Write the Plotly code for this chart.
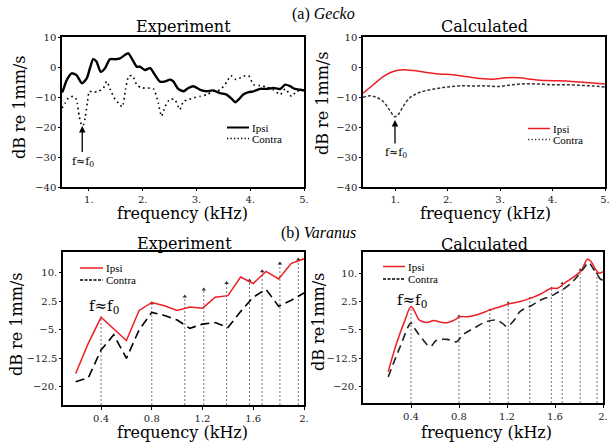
import plotly.graph_objects as go

W, H = 612, 443

# ---------------- data ----------------
# (a) Gecko - Experiment
ga_exp_ipsi_f = [0.50, 0.52, 0.59, 0.68, 0.77, 0.87, 0.96, 1.02, 1.08, 1.14, 1.22, 1.30, 1.39, 1.49, 1.58,
                 1.67, 1.73, 1.83, 1.89, 1.95, 2.04, 2.14, 2.23, 2.32, 2.42, 2.51, 2.57, 2.66, 2.76, 2.85,
                 2.94, 3.07, 3.19, 3.31, 3.44, 3.56, 3.66, 3.72, 3.78, 3.87, 3.97, 4.06, 4.18, 4.31, 4.43,
                 4.56, 4.65, 4.74, 4.83, 4.93, 5.00]
ga_exp_ipsi = [-8.5, -7.7, -4.3, -2.1, -2.7, -5.4, -3.8, -0.4, 2.6, 1.8, -1.6, -0.4, 2.6, 2.6, 2.9,
               4.0, 4.6, 1.8, 0.1, 0.1, -1.0, -0.4, -2.7, -4.9, -4.8, -4.2, -4.8, -7.3, -8.1, -7.0,
               -6.4, -7.6, -8.1, -7.8, -8.7, -9.2, -10.7, -11.8, -10.9, -9.2, -8.4, -8.1, -7.3, -7.3, -7.0,
               -7.3, -5.9, -6.4, -7.3, -7.6, -7.8]
ga_exp_contra_f = [0.50, 0.56, 0.62, 0.71, 0.77, 0.82, 0.87, 0.90, 0.93, 0.97, 1.01, 1.08, 1.18, 1.27, 1.33,
                   1.40, 1.49, 1.55, 1.62, 1.68, 1.74, 1.81, 1.89, 1.98, 2.07, 2.20, 2.29, 2.35, 2.42, 2.51,
                   2.60, 2.69, 2.76, 2.85, 2.94, 3.07, 3.19, 3.31, 3.44, 3.56, 3.64, 3.74, 3.87, 3.97, 4.06,
                   4.18, 4.31, 4.43, 4.56, 4.65, 4.77, 4.86, 5.00]
ga_exp_contra = [-13.7, -12.0, -10.3, -9.8, -10.9, -16.4, -19.6, -19.2, -17.0, -12.0, -8.1, -8.4, -8.1, -7.0, -4.8,
                 -7.6, -10.9, -12.0, -13.3, -7.6, -3.1, -2.9, -5.9, -7.0, -7.0, -7.3, -12.0, -16.4, -13.1, -10.7,
                 -10.9, -14.2, -11.4, -10.9, -10.3, -9.8, -9.2, -8.1, -7.6, -5.1, -2.9, -4.2, -3.1, -2.9, -5.9,
                 -6.2, -6.7, -7.6, -9.2, -7.3, -9.8, -8.1, -7.8]

# (a) Gecko - Calculated
ga_calc_ipsi_f = [0.385, 0.575, 0.77, 0.96, 1.15, 1.34, 1.59, 1.84, 2.10, 2.35, 2.60, 2.86, 3.11, 3.36, 3.61,
                  3.87, 4.12, 4.37, 4.63, 5.00]
ga_calc_ipsi = [-8.75, -6.0, -3.2, -1.5, -0.9, -1.2, -1.8, -2.3, -2.6, -3.2, -3.8, -4.1, -3.6, -3.6, -4.1,
                -4.5, -4.6, -4.8, -5.2, -5.7]
ga_calc_contra_f = [0.385, 0.51, 0.64, 0.77, 0.89, 0.99, 1.05, 1.15, 1.27, 1.46, 1.72, 1.97, 2.22, 2.48, 2.73,
                    2.98, 3.23, 3.49, 3.74, 3.99, 4.24, 4.50, 4.75, 5.00]
ga_calc_contra = [-10.1, -9.6, -10.1, -11.5, -14.3, -16.6, -16.0, -13.2, -10.4, -8.5, -7.4, -6.7, -6.3, -6.3, -6.3,
                  -6.5, -5.9, -5.6, -5.7, -5.9, -5.9, -6.1, -6.3, -6.7]

# (b) Varanus - Experiment
vb_exp_f = [0.2, 0.3, 0.4, 0.5, 0.6, 0.7, 0.8, 0.9, 1.0, 1.1, 1.2, 1.3, 1.4, 1.5, 1.6, 1.7, 1.8, 1.9, 2.0]
vb_exp_ipsi = [-16.5, -8.5, -1.7, -4.8, -7.8, 0.1, 2.2, 1.35, 0.1, 1.0, 0.7, 3.6, 4.0, 8.9, 7.2, 10.4, 8.4, 12.5, 13.7]
vb_exp_contra = [-18.7, -17.6, -10.3, -6.3, -12.5, -5.0, -0.4, -1.2, -2.4, -4.6, -3.5, -3.1, -4.4, -0.2, 3.6, 5.7,
                 1.2, 2.8, 4.7]
vb_exp_mark_f = [0.4, 0.8, 1.06, 1.21, 1.39, 1.57, 1.67, 1.81, 1.955]
vb_exp_mark_top = [-1.5, 2.0, 3.8, 5.6, 7.35, 8.0, 10.4, 12.5, 13.5]

# (b) Varanus - Calculated
vb_calc_ipsi_f = [0.21, 0.28, 0.35, 0.40, 0.43, 0.47, 0.53, 0.59, 0.64, 0.70, 0.76, 0.81, 0.87, 0.95, 1.06,
                  1.15, 1.22, 1.31, 1.40, 1.48, 1.57, 1.62, 1.68, 1.76, 1.82, 1.87, 1.90, 1.94, 1.97, 2.00]
vb_calc_ipsi = [-16.0, -8.5, -2.4, 1.2, -0.1, -2.4, -3.0, -2.5, -2.9, -3.1, -2.4, -1.5, -1.5, -1.0, 0.3,
                1.2, 1.9, 2.5, 3.4, 4.5, 6.0, 6.0, 7.4, 9.1, 10.7, 13.7, 13.1, 10.9, 10.0, 10.4]
vb_calc_contra_f = [0.21, 0.31, 0.40, 0.43, 0.49, 0.56, 0.61, 0.70, 0.78, 0.83, 0.92, 1.03, 1.11, 1.16, 1.20,
                    1.26, 1.31, 1.40, 1.48, 1.57, 1.62, 1.68, 1.76, 1.84, 1.88, 1.92, 1.95, 1.98, 2.00]
vb_calc_contra = [-17.4, -9.4, -3.2, -4.6, -7.2, -9.4, -7.8, -7.5, -8.1, -6.3, -4.6, -2.8, -2.4, -3.2, -4.1,
                  -2.4, -0.1, 1.4, 2.9, 4.0, 4.9, 6.0, 8.2, 11.3, 12.8, 11.1, 9.8, 8.4, 8.2]
vb_calc_mark_f = [0.40, 0.80, 1.056, 1.21, 1.39, 1.57, 1.66, 1.81, 1.95]
vb_calc_mark_top = [1.2, -1.3, 0.3, 2.2, 3.4, 6.0, 7.35, 10.9, 10.0]

# axis settings
a_xrange = [0.5, 5.0]
a2_xrange = [0.385, 5.0]
a_yrange = [-40, 10]
b_xrange = [0.1, 2.0]
b2_xrange = [0.0, 2.0]
b_yrange = [-24.8, 15.5]
b2_yrange = [-24.3, 15.6]
a_xticks = [1, 2, 3, 4, 5]
a_xticktext = ["1.", "2.", "3.", "4.", "5."]
a_yticks = [10, 0, -10, -20, -30, -40]
b_xticks = [0.4, 0.8, 1.2, 1.6, 2.0]
b_xticktext = ["0.4", "0.8", "1.2", "1.6", "2."]
b_yticks = [10, 2.5, -5, -12.5, -20]
b_yticktext = ["10.", "2.5", "\u22125.", "\u221212.5", "\u221220."]

RED = "#ec2024"
SERIF = "DejaVu Serif"
TIMES = "Liberation Serif"


def px(x):
    return x / W


def py(y):
    return 1 - y / H


fig = go.Figure()

# ---- (a) experiment
fig.add_trace(go.Scatter(x=ga_exp_ipsi_f, y=ga_exp_ipsi, mode="lines", line=dict(color="black", width=2.4, shape="spline", smoothing=0.6), xaxis="x", yaxis="y", name="Ipsi"))
fig.add_trace(go.Scatter(x=ga_exp_contra_f, y=ga_exp_contra, mode="lines", line=dict(color="black", width=1.6, dash="1.6px,3.4px", shape="spline", smoothing=0.6), xaxis="x", yaxis="y", name="Contra"))
# ---- (a) calculated
fig.add_trace(go.Scatter(x=ga_calc_ipsi_f, y=ga_calc_ipsi, mode="lines", line=dict(color=RED, width=1.5, shape="spline"), xaxis="x2", yaxis="y2", name="Ipsi"))
fig.add_trace(go.Scatter(x=ga_calc_contra_f, y=ga_calc_contra, mode="lines", line=dict(color="#333333", width=1.5, dash="3px,2px", shape="spline"), xaxis="x2", yaxis="y2", name="Contra"))


def mark_trace(freqs, tops, ymin, xa, ya, arrow_size, skip_first=True):
    xs, ys = [], []
    for f, t in zip(freqs, tops):
        xs += [f, f, None]
        ys += [ymin, t, None]
    fig.add_trace(go.Scatter(x=xs, y=ys, mode="lines", line=dict(color="#777777", width=1, dash="2px,2px"),
                             xaxis=xa, yaxis=ya, hoverinfo="skip"))
    mf = freqs[1:] if skip_first else freqs
    mt = tops[1:] if skip_first else tops
    fig.add_trace(go.Scatter(x=mf, y=mt, mode="markers",
                             marker=dict(symbol="triangle-up", size=arrow_size, color="#333333"),
                             xaxis=xa, yaxis=ya, hoverinfo="skip"))


# ---- (b) experiment
mark_trace(vb_exp_mark_f, vb_exp_mark_top, b_yrange[0], "x3", "y3", 4)
fig.add_trace(go.Scatter(x=vb_exp_f, y=vb_exp_ipsi, mode="lines", line=dict(color=RED, width=1.5), xaxis="x3", yaxis="y3", name="Ipsi"))
fig.add_trace(go.Scatter(x=vb_exp_f, y=vb_exp_contra, mode="lines", line=dict(color="black", width=1.6, dash="9px,5px"), xaxis="x3", yaxis="y3", name="Contra"))
# ---- (b) calculated
mark_trace(vb_calc_mark_f, vb_calc_mark_top, b2_yrange[0], "x4", "y4", 3)
fig.add_trace(go.Scatter(x=vb_calc_ipsi_f, y=vb_calc_ipsi, mode="lines", line=dict(color=RED, width=1.5, shape="spline"), xaxis="x4", yaxis="y4", name="Ipsi"))
fig.add_trace(go.Scatter(x=vb_calc_contra_f, y=vb_calc_contra, mode="lines", line=dict(color="#222222", width=1.6, dash="8px,5px", shape="spline"), xaxis="x4", yaxis="y4", name="Contra"))

tickfont = dict(family=SERIF, size=10, color="#222222")


def xax(dom, rng, tv, tt, anchor, tl=3):
    return dict(domain=dom, range=rng, tickvals=tv, ticktext=tt, anchor=anchor, showgrid=False, zeroline=False,
                showline=True, mirror=True, linecolor="black", linewidth=1.5, ticks="outside", ticklen=tl,
                tickcolor="black", tickfont=tickfont, automargin=False)


def yax(dom, rng, tv, tt, anchor):
    d = dict(domain=dom, range=rng, tickvals=tv, anchor=anchor, showgrid=False, zeroline=False,
             showline=True, mirror=True, linecolor="black", linewidth=1.5, ticks="outside", ticklen=2,
             tickcolor="black", tickfont=tickfont, automargin=False)
    if tt is not None:
        d["ticktext"] = tt
    return d


dxa1 = [px(62), px(304)]
dxa2 = [px(363), px(605)]
dya = [py(187), py(37)]
dxb1 = [px(63), px(304)]
dxb2 = [px(363), px(603)]
dyb1 = [py(405), py(252)]
dyb2 = [py(403), py(252)]

ann = []


def text(x, y, s, size=16, family=SERIF, angle=0, xanchor="center"):
    ann.append(dict(x=px(x), y=py(y), xref="paper", yref="paper", text=s, showarrow=False,
                    font=dict(family=family, size=size, color="black"), textangle=angle,
                    xanchor=xanchor, yanchor="middle"))


# panel headers
text(323, 14, "(a) <i>Gecko</i>", size=16, family=TIMES)
text(318, 233, "(b) <i>Varanus</i>", size=16, family=TIMES)
text(183, 27, "Experiment")
text(484, 27, "Calculated")
text(184, 243, "Experiment")
text(484, 244, "Calculated")
# axis titles
text(182, 214, "frequency (kHz)")
text(485, 213.5, "frequency (kHz)")
text(182, 432, "frequency (kHz)")
text(487, 432, "frequency (kHz)")
text(19, 108, "dB re 1mm/s", angle=-90)
text(322, 104, "dB re 1mm/s", angle=-90)
text(16, 325, "dB re 1mm/s", angle=-90)
text(318, 322, "dB re1mm/s", angle=-90)

# f ~ f0 labels
text(83, 162, "f\u2248f<sub>0</sub>", size=11)
text(396, 153, "f\u2248f<sub>0</sub>", size=11)
text(104, 306, "f\u2248f<sub>0</sub>", size=15)
text(412, 300, "f\u2248f<sub>0</sub>", size=15)

# arrows (a)
ann.append(dict(x=0.877, y=-19.7, ax=0.877, ay=-28.8, xref="x", yref="y", axref="x", ayref="y", text="",
                showarrow=True, arrowhead=2, arrowsize=1, arrowwidth=1.3, arrowcolor="black"))
ann.append(dict(x=0.995, y=-17.7, ax=0.995, ay=-26.0, xref="x2", yref="y2", axref="x2", ayref="y2", text="",
                showarrow=True, arrowhead=2, arrowsize=1, arrowwidth=1.3, arrowcolor="black"))

# manual legends
shapes = []


def legend(x0, x1, y_ipsi, y_contra, ipsi_style, contra_style):
    shapes.append(dict(type="line", xref="paper", yref="paper", x0=px(x0), x1=px(x1), y0=py(y_ipsi), y1=py(y_ipsi),
                       line=ipsi_style))
    shapes.append(dict(type="line", xref="paper", yref="paper", x0=px(x0), x1=px(x1), y0=py(y_contra), y1=py(y_contra),
                       line=contra_style))
    text(x1 + 0.5, y_ipsi, "Ipsi", size=11, family=TIMES, xanchor="left")
    text(x1 + 0.5, y_contra, "Contra", size=11, family=TIMES, xanchor="left")


legend(227, 249, 127.5, 138.5, dict(color="black", width=2), dict(color="black", width=1.3, dash="1.3px,2.2px"))
legend(528, 550, 128.5, 139.5, dict(color=RED, width=1.5), dict(color="#333333", width=1.3, dash="1.3px,2.2px"))
legend(80, 103, 268, 280, dict(color=RED, width=1.5), dict(color="black", width=1.3, dash="3px,1.5px"))
legend(383, 405, 266.5, 279, dict(color=RED, width=1.5), dict(color="black", width=1.3, dash="3px,1.5px"))

fig.update_layout(
    width=W, height=H, margin=dict(l=0, r=0, t=0, b=0, autoexpand=False),
    paper_bgcolor="white", plot_bgcolor="white", showlegend=False,
    xaxis=xax(dxa1, a_xrange, a_xticks, a_xticktext, "y", tl=2),
    yaxis=yax(dya, a_yrange, a_yticks, None, "x"),
    xaxis2=xax(dxa2, a2_xrange, a_xticks, a_xticktext, "y2", tl=2),
    yaxis2=yax(dya, a_yrange, a_yticks, None, "x2"),
    xaxis3=xax(dxb1, b_xrange, b_xticks, b_xticktext, "y3"),
    yaxis3=yax(dyb1, b_yrange, b_yticks, b_yticktext, "x3"),
    xaxis4=xax(dxb2, b2_xrange, b_xticks, b_xticktext, "y4"),
    yaxis4=yax(dyb2, b2_yrange, b_yticks, b_yticktext, "x4"),
    annotations=ann, shapes=shapes,
)

fig.write_html("out.html", config={"displayModeBar": False},
               post_script="document.body.style.margin='0px';document.body.style.overflow='hidden';")
